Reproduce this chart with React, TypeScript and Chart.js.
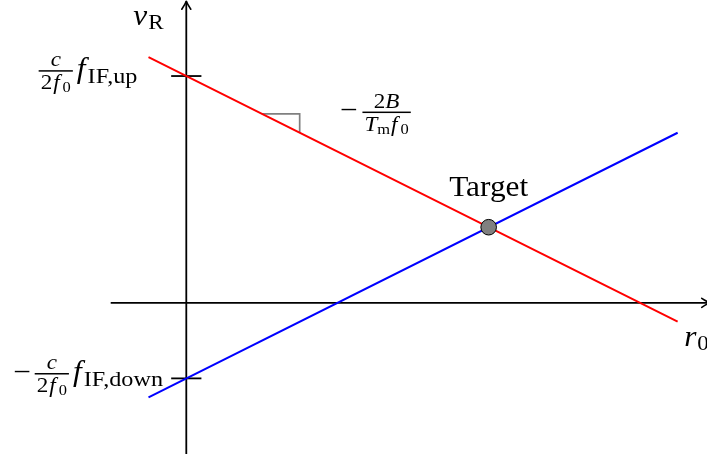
import React, { useEffect, useRef } from "react";
import { Chart, registerables } from "chart.js";

Chart.register(...registerables);

// Visible window of the (r0, vR) plane
const X_RANGE = [-4.929, 13.777];
const Y_RANGE = [-4.08, 8.012];

// Coordinate axes
const xAxisR0 = [-2, 13.85];
const yAxisV = [-4, 7.98];

// The two range–velocity lines, sampled at their end points
const lineR0 = [-1, 13];
const vUp = [6.5, -0.5];
const vDown = [-2.5, 4.5];

// Intercept ticks on the vR axis
const interceptV = [6, -2];
const tickHalfWidth = 0.4;

// Slope marker on the up line
const slopeR0 = [2, 3, 3];
const slopeV = [5, 5, 4.5];

// Target (intersection of both lines)
const targetR0 = [8];
const targetV = [2];

const FONT = '"Liberation Serif", "Times New Roman", serif';
const HS = 1.1; // horizontal stretch for glyphs
const M = 28.5; // text size
const S = 21; // script size
const SUB = 22; // subscript size after the large f
const SS = 15; // scriptscript size

type Piece =
  | { kind: "t"; t: string; s: number; it: boolean; dy: number }
  | { kind: "sp"; w: number }
  | { kind: "frac"; num: Piece[]; den: Piece[]; s: number };

const R = (t: string, s: number, dy = 0): Piece => ({ kind: "t", t, s, it: false, dy });
const I = (t: string, s: number, dy = 0): Piece => ({ kind: "t", t, s, it: true, dy });
const SP = (w: number): Piece => ({ kind: "sp", w });
const FR = (num: Piece[], den: Piece[], s = M): Piece => ({ kind: "frac", num, den, s });

const cOver2f0 = () => FR([I("c", S)], [R("2", S), SP(1), I("f", S), SP(3), R("0", SS, 3)]);

type Label = { at: [number, number]; dy: number; pieces: Piece[] };

const LABELS: Label[] = [
  { at: [-1, 7.5], dy: 6, pieces: [I("v", M), SP(1), R("R", S, 4)] },
  { at: [13.5, -1], dy: 5, pieces: [I("r", M), SP(1), R("0", S, 4)] },
  {
    at: [-2.6, 6],
    dy: 2,
    pieces: [cOver2f0(), SP(4), I("f", M), SP(2), R("IF,up", SUB, 5)],
  },
  {
    at: [-2.6, -2],
    dy: 2.5,
    pieces: [R("\u2212", M), SP(4), cOver2f0(), SP(4), I("f", M), SP(2), R("IF,down", SUB, 5)],
  },
  {
    at: [5, 5],
    dy: 5.6,
    pieces: [
      R("\u2212", M),
      SP(5),
      FR([R("2", S), I("B", S)], [I("T", S), R("m", SS, 3), SP(1), I("f", S), SP(3), R("0", SS, 3)]),
    ],
  },
  { at: [8, 3], dy: 7, pieces: [R("Target", M)] },
];

function setFont(ctx: CanvasRenderingContext2D, p: { s: number; it: boolean }) {
  ctx.font = `${p.it ? "italic " : ""}${p.s}px ${FONT}`;
}

function measure(ctx: CanvasRenderingContext2D, pieces: Piece[]): number {
  let w = 0;
  for (const p of pieces) {
    if (p.kind === "sp") w += p.w;
    else if (p.kind === "t") {
      setFont(ctx, p);
      w += ctx.measureText(p.t).width * HS;
    } else {
      w += Math.max(measure(ctx, p.num), measure(ctx, p.den)) + 4;
    }
  }
  return w;
}

function render(ctx: CanvasRenderingContext2D, pieces: Piece[], x0: number, base: number) {
  let x = x0;
  for (const p of pieces) {
    if (p.kind === "sp") {
      x += p.w;
    } else if (p.kind === "t") {
      setFont(ctx, p);
      const w = ctx.measureText(p.t).width * HS;
      ctx.save();
      ctx.translate(x, base + p.dy);
      ctx.scale(HS, 1);
      ctx.fillText(p.t, 0, 0);
      ctx.restore();
      x += w;
    } else {
      const wn = measure(ctx, p.num);
      const wd = measure(ctx, p.den);
      const w = Math.max(wn, wd) + 4;
      const bar = base - 0.25 * p.s;
      ctx.fillRect(x, bar - 0.75, w, 1.5);
      render(ctx, p.num, x + (w - wn) / 2, bar - 4.5);
      render(ctx, p.den, x + (w - wd) / 2, bar + 18.5);
      x += w;
    }
  }
}

function arrowHead(ctx: CanvasRenderingContext2D, tx: number, ty: number, dx: number, dy: number) {
  const L = 8;
  const W = 4.5;
  const nx = -dy;
  const ny = dx;
  const bx = tx - dx * L;
  const by = ty - dy * L;
  ctx.beginPath();
  ctx.moveTo(bx + nx * W, by + ny * W);
  ctx.quadraticCurveTo(tx - dx * L * 0.35 + nx * W * 0.25, ty - dy * L * 0.35 + ny * W * 0.25, tx, ty);
  ctx.quadraticCurveTo(tx - dx * L * 0.35 - nx * W * 0.25, ty - dy * L * 0.35 - ny * W * 0.25, bx - nx * W, by - ny * W);
  ctx.stroke();
}

const overlay = {
  id: "overlay",
  afterDatasetsDraw(chart: any) {
    const ctx: CanvasRenderingContext2D = chart.ctx;
    const xs = chart.scales.x;
    const ys = chart.scales.y;
    const px = (v: number) => xs.getPixelForValue(v);
    const py = (v: number) => ys.getPixelForValue(v);

    ctx.save();
    ctx.strokeStyle = "#000";
    ctx.lineWidth = 1.6;
    ctx.lineCap = "round";
    ctx.lineJoin = "round";
    arrowHead(ctx, px(xAxisR0[1]), py(0), 1, 0);
    arrowHead(ctx, px(0), py(yAxisV[1]), 0, -1);

    ctx.fillStyle = "#000";
    ctx.textBaseline = "alphabetic";
    ctx.textAlign = "left";
    for (const lab of LABELS) {
      const w = measure(ctx, lab.pieces);
      render(ctx, lab.pieces, px(lab.at[0]) - w / 2, py(lab.at[1]) + lab.dy);
    }
    ctx.restore();
  },
};

const pts = (xs: number[], ys: number[]) => xs.map((x, i) => ({ x, y: ys[i] }));

export default function App() {
  const ref = useRef<HTMLCanvasElement | null>(null);

  useEffect(() => {
    if (!ref.current) return;
    const lineStyle = (color: string, width: number, order: number) => ({
      borderColor: color,
      borderWidth: width,
      pointRadius: 0,
      fill: false,
      tension: 0,
      order,
    });

    const chart = new Chart(ref.current, {
      type: "line",
      data: {
        datasets: [
          {
            label: "Target",
            data: pts(targetR0, targetV),
            showLine: false,
            pointRadius: 7.8,
            pointBackgroundColor: "#808080",
            pointBorderColor: "#000",
            pointBorderWidth: 1,
            order: 0,
          },
          { label: "up", data: pts(lineR0, vUp), ...lineStyle("#ff0000", 2, 1) },
          { label: "down", data: pts(lineR0, vDown), ...lineStyle("#0000ff", 2, 1) },
          { label: "slope", data: pts(slopeR0, slopeV), ...lineStyle("#808080", 1.7, 2) },
          { label: "r0 axis", data: pts(xAxisR0, [0, 0]), ...lineStyle("#000", 1.8, 3) },
          { label: "vR axis", data: pts([0, 0], yAxisV), ...lineStyle("#000", 1.8, 3) },
          ...interceptV.map((v) => ({
            label: `tick ${v}`,
            data: pts([-tickHalfWidth, tickHalfWidth], [v, v]),
            ...lineStyle("#000", 1.8, 3),
          })),
        ],
      } as any,
      options: {
        animation: false,
        responsive: false,
        events: [],
        layout: { padding: 0, autoPadding: false },
        plugins: { legend: { display: false }, tooltip: { enabled: false } },
        scales: {
          x: { type: "linear", min: X_RANGE[0], max: X_RANGE[1], display: false },
          y: { type: "linear", min: Y_RANGE[0], max: Y_RANGE[1], display: false },
        },
      } as any,
      plugins: [overlay],
    });
    return () => chart.destroy();
  }, []);

  return (
    <div style={{ position: "fixed", left: 0, top: 0, width: 707, height: 457, background: "#fff" }}>
      <canvas ref={ref} width={707} height={457} style={{ display: "block" }} />
    </div>
  );
}
